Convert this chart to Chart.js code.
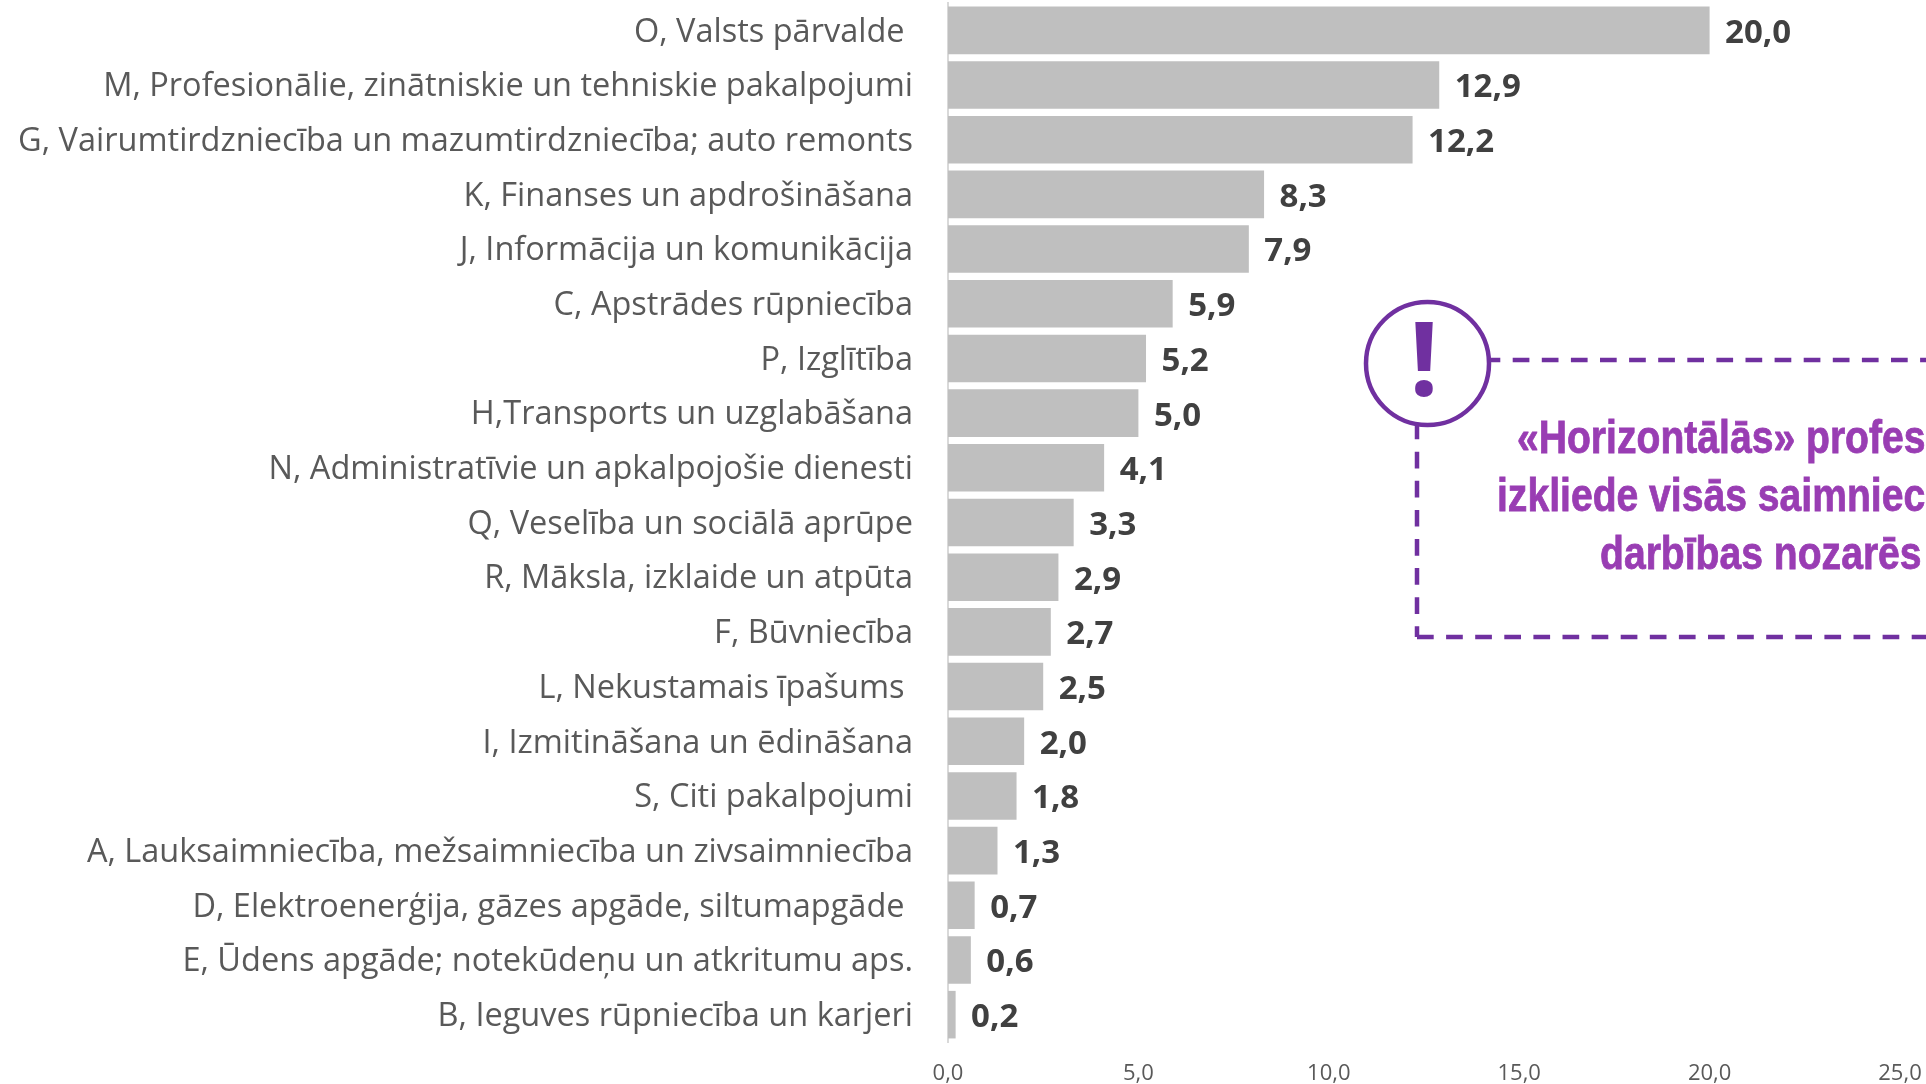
<!DOCTYPE html>
<html>
<head>
<meta charset="utf-8">
<style>html,body{margin:0;padding:0;background:#fff;overflow:hidden}#w{position:relative;width:1926px;height:1084px}</style>
<script src="https://cdn.jsdelivr.net/npm/chart.js@4"></script>
</head>
<body>
<div id="w"><canvas id="c" width="1926" height="1084"></canvas></div>
<script>
const categories = [
  "O, Valsts pārvalde ",
  "M, Profesionālie, zinātniskie un tehniskie pakalpojumi",
  "G, Vairumtirdzniecība un mazumtirdzniecība; auto remonts",
  "K, Finanses un apdrošināšana",
  "J, Informācija un komunikācija",
  "C, Apstrādes rūpniecība",
  "P, Izglītība",
  "H,Transports un uzglabāšana",
  "N, Administratīvie un apkalpojošie dienesti",
  "Q, Veselība un sociālā aprūpe",
  "R, Māksla, izklaide un atpūta",
  "F, Būvniecība",
  "L, Nekustamais īpašums ",
  "I, Izmitināšana un ēdināšana",
  "S, Citi pakalpojumi",
  "A, Lauksaimniecība, mežsaimniecība un zivsaimniecība",
  "D, Elektroenerģija, gāzes apgāde, siltumapgāde ",
  "E, Ūdens apgāde; notekūdeņu un atkritumu aps.",
  "B, Ieguves rūpniecība un karjeri"
];
const values = [20.0,12.9,12.2,8.3,7.9,5.9,5.2,5.0,4.1,3.3,2.9,2.7,2.5,2.0,1.8,1.3,0.7,0.6,0.2];
const calloutLines = ["«Horizontālās» profes","izkliede visās saimniec","darbības nozarēs"];
const fmt = v => v.toFixed(1).replace('.',',');

const nudgeLabels = {
  id:'nudgeLabels',
  afterLayout(chart){
    chart.scales.y.getLabelItems(chart.chartArea).forEach(it=>{ it.options.translation[1] += 2; });
  }
};
const valueLabels = {
  id:'valueLabels',
  afterDatasetsDraw(chart){
    const {ctx} = chart;
    ctx.save();
    ctx.font = 'bold 33px "Open Sans"';
    ctx.fillStyle = '#404040';
    ctx.textAlign = 'left';
    ctx.textBaseline = 'middle';
    chart.getDatasetMeta(0).data.forEach((el,i)=>{
      ctx.fillText(fmt(values[i]), el.x+15.5, el.y+3);
    });
    ctx.restore();
  }
};
const callout = {
  id:'callout',
  afterDraw(chart){
    const {ctx} = chart;
    ctx.save();
    ctx.strokeStyle = '#7030a0';
    ctx.lineWidth = 4.5;
    ctx.setLineDash([16.7,12.4]);
    ctx.lineDashOffset = 7.4;
    ctx.beginPath();
    ctx.moveTo(1491,360); ctx.lineTo(1926,360);
    ctx.stroke();
    ctx.lineDashOffset = 3.4;
    ctx.beginPath();
    ctx.moveTo(1417,426); ctx.lineTo(1417,637);
    ctx.stroke();
    ctx.lineDashOffset = 0;
    ctx.beginPath();
    ctx.moveTo(1417,637); ctx.lineTo(1926,637);
    ctx.stroke();
    ctx.setLineDash([]);
    ctx.beginPath();
    ctx.arc(1427.5,363.5,61.5,0,Math.PI*2);
    ctx.stroke();
    ctx.fillStyle = '#7030a0';
    ctx.textAlign='center';
    ctx.textBaseline='alphabetic';
    ctx.save();
    ctx.translate(1424,396);
    ctx.scale(1,1);
    ctx.font='bold 103px "Open Sans"';
    ctx.fillText('!',0,0);
    ctx.restore();
    ctx.fillStyle = '#993db3';
    ctx.strokeStyle = '#993db3';
    ctx.lineWidth = 0.8;
    ctx.textAlign='left';
    ctx.font='bold 46px "Liberation Sans"';
    const pos=[[1517,453],[1497,511],[1600,569]];
    calloutLines.forEach((t,i)=>{
      ctx.save();
      ctx.translate(pos[i][0],pos[i][1]);
      ctx.scale(0.85,1);
      ctx.fillText(t,0,0);
      ctx.strokeText(t,0,0);
      ctx.restore();
    });
    ctx.restore();
  }
};
new Chart(document.getElementById('c'),{
  type:'bar',
  data:{labels:categories,datasets:[{data:values,backgroundColor:'#bfbfbf',barPercentage:0.87,categoryPercentage:1}]},
  options:{
    indexAxis:'y',responsive:false,animation:false,
    layout:{padding:{top:3,right:26,bottom:0,left:0}},
    plugins:{legend:{display:false},tooltip:{enabled:false}},
    scales:{
      x:{min:0,max:25,
        grid:{display:false},border:{display:false},
        afterFit(s){s.height=42;s.paddingLeft=0;s.paddingRight=0;},
        ticks:{stepSize:5,callback:v=>fmt(v),color:'#595959',maxRotation:0,padding:11,
          font:{family:'"Liberation Sans Narrow","Open Sans"',size:22}}},
      y:{
        grid:{display:false,drawTicks:false},border:{display:true,color:'#d9d9d9',width:2},
        afterFit(s){s.width=948;s.paddingTop=0;s.paddingBottom=0;},
        ticks:{color:'#595959',padding:35,autoSkip:false,font:{family:'"Open Sans"',size:32.5}}}
    }
  },
  plugins:[nudgeLabels,valueLabels,callout]
});
</script>
</body>
</html>
